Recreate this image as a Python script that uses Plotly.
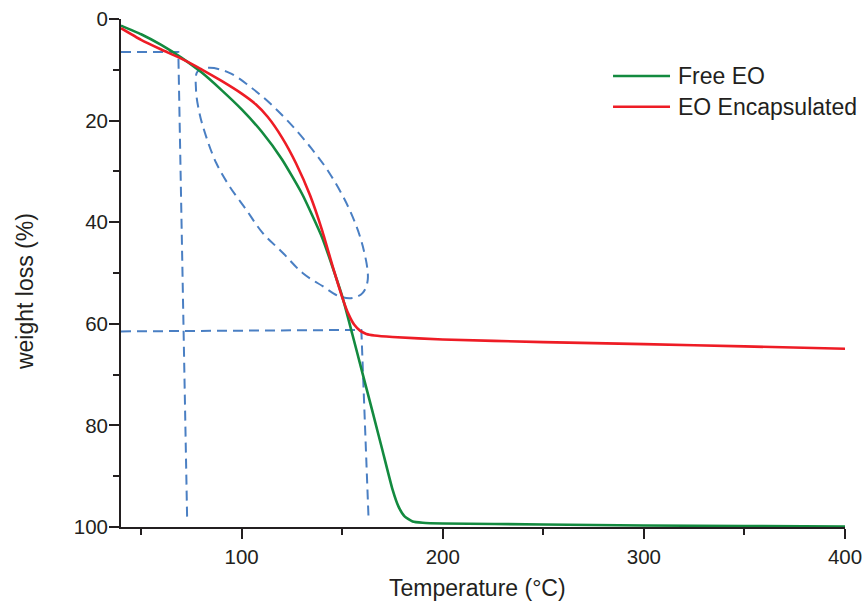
import plotly.graph_objects as go

# Thermogravimetric curves: temperature (°C) vs weight loss (%)
temp_free = [40, 50, 60, 70, 80, 90, 100, 110, 120, 130, 140, 150, 155, 160, 165,
             170, 175, 178, 181, 185, 190, 200, 250, 300, 350, 400]
loss_free = [1.3, 3.0, 5.1, 7.6, 10.5, 14.0, 17.8, 22.2, 27.6, 34.4, 43.0, 54.6, 62.0,
             69.6, 77.2, 84.9, 92.6, 96.0, 97.9, 98.9, 99.15, 99.3, 99.5, 99.7, 99.8, 99.9]

temp_enc = [40, 50, 60, 70, 80, 90, 100, 107, 113, 120, 127, 134, 140, 146, 150,
            153, 156, 159, 162, 166, 175, 200, 250, 300, 350, 400]
loss_enc = [1.8, 4.1, 6.0, 7.8, 9.9, 12.2, 14.7, 16.8, 19.3, 23.3, 28.4, 34.7, 41.6,
            49.7, 54.8, 58.0, 60.2, 61.4, 62.0, 62.3, 62.6, 63.1, 63.6, 64.0, 64.45, 64.9]

# Guide lines marking the onset and end of the main loss step
guide_onset_x = [40, 68.5, 72.9]
guide_onset_y = [6.5, 6.5, 98.7]
guide_end_x = [40, 159.5, 163.1]
guide_end_y = [61.5, 61.2, 98.4]

# Loop highlighting the region where the two curves separate
loop_x = [78.1, 83.9, 93.9, 103.8, 113.8, 123.7, 133.7, 143.6, 153.6, 160.2, 162.7,
          160.2, 155.2, 148.6, 140.3, 130.3, 120.4, 110.4, 102.2, 93.9, 87.3, 82.3,
          79.0, 77.3, 78.1]
loop_y = [10.3, 9.6, 10.6, 13.2, 16.5, 20.4, 25.0, 30.3, 37.5, 44.7, 51.3, 53.9,
          54.9, 54.6, 52.6, 50.0, 46.0, 42.1, 37.5, 32.9, 28.3, 23.1, 18.5, 13.9, 10.3]

x_ticks = [100, 200, 300, 400]
x_minor = [50, 150, 250, 350]
y_ticks = [0, 20, 40, 60, 80, 100]
y_minor = [10, 30, 50, 70, 90]

series_names = ["Free EO", "EO Encapsulated"]
GREEN = "#138a3f"
RED = "#ee1c25"
BLUE = "#4a7fc3"
INK = "#231f20"
FONT = "Liberation Sans, Arial, sans-serif"

fig = go.Figure()

guide_line = dict(color=BLUE, width=2, dash="10px,6px")
for gx, gy in [(guide_onset_x, guide_onset_y), (guide_end_x, guide_end_y)]:
    fig.add_trace(go.Scatter(x=gx, y=gy, mode="lines", line=guide_line,
                             showlegend=False, hoverinfo="skip"))
fig.add_trace(go.Scatter(x=loop_x, y=loop_y, mode="lines",
                         line=dict(color=BLUE, width=2, dash="10px,6px",
                                   shape="spline", smoothing=1.0),
                         showlegend=False, hoverinfo="skip"))

fig.add_trace(go.Scatter(x=temp_free, y=loss_free, mode="lines", name=series_names[0],
                         line=dict(color=GREEN, width=2.6, shape="spline", smoothing=0.5),
                         showlegend=False))
fig.add_trace(go.Scatter(x=temp_enc, y=loss_enc, mode="lines", name=series_names[1],
                         line=dict(color=RED, width=2.6, shape="spline", smoothing=0.5),
                         showlegend=False))

axis_common = dict(
    showgrid=False, zeroline=False, showline=True, linecolor=INK, linewidth=1.8,
    ticks="outside", ticklen=10, tickwidth=1.6, tickcolor=INK, automargin=False,
    tickfont=dict(family=FONT, size=20.5, color=INK),
)

fig.update_xaxes(range=[40, 400], tickvals=x_ticks,
                 minor=dict(tickvals=x_minor, ticks="outside", ticklen=6,
                            tickwidth=1.6, tickcolor=INK),
                 **axis_common)
fig.update_yaxes(range=[100, 0], tickvals=y_ticks, ticklabelstandoff=-3,
                 minor=dict(tickvals=y_minor, ticks="outside", ticklen=6,
                            tickwidth=1.6, tickcolor=INK),
                 **axis_common)

# Legend drawn as short line samples with labels
legend_rows = [(series_names[0], GREEN, 0.8878), (series_names[1], RED, 0.8274)]
shapes = []
annotations = []
for label, color, yy in legend_rows:
    shapes.append(dict(type="line", xref="paper", yref="paper", x0=0.6796, x1=0.7583,
                       y0=yy, y1=yy, line=dict(color=color, width=2.6)))
    annotations.append(dict(text=label, xref="paper", yref="paper", x=0.7665, y=yy,
                            xanchor="left", yanchor="middle", showarrow=False,
                            font=dict(family=FONT, size=23, color=INK)))

annotations.append(dict(text="Temperature (°C)", xref="paper", yref="paper",
                        x=0.4924, y=-0.120, xanchor="center", yanchor="middle",
                        showarrow=False, font=dict(family=FONT, size=23, color=INK)))
annotations.append(dict(text="weight loss (%)", xref="paper", yref="paper",
                        x=-0.1318, y=0.4636, xanchor="center", yanchor="middle",
                        textangle=-90, showarrow=False,
                        font=dict(family=FONT, size=23, color=INK)))

fig.update_layout(
    width=864, height=603,
    margin=dict(l=121, r=19, t=19, b=76, autoexpand=False),
    paper_bgcolor="white", plot_bgcolor="white",
    shapes=shapes, annotations=annotations,
    showlegend=False,
)

fig.write_html("out.html")
